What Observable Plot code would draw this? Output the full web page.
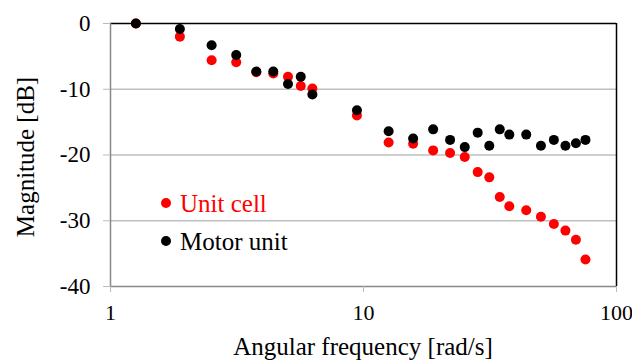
<!DOCTYPE html>
<html>
<head>
<meta charset="utf-8">
<style>
  html, body { margin: 0; padding: 0; background: #fff; font-family: 'Liberation Serif', serif; }
  #wrap { position: relative; width: 632px; height: 361px; overflow: hidden; font-family: 'Liberation Serif', serif; }
  .lbl { position: absolute; font-family: 'Liberation Serif', serif !important; font-size: 25px; white-space: nowrap; line-height: 1; }
  #wrap svg, #wrap svg text { font-family: 'Liberation Serif', serif !important; }
</style>
<script src="https://cdn.jsdelivr.net/npm/d3@7"></script>
<script src="https://cdn.jsdelivr.net/npm/@observablehq/plot@0.6"></script>
</head>
<body>
<div id="wrap">
  <div class="lbl" id="xtitle" style="left:363px; top:334px; transform:translateX(-50%)">Angular frequency [rad/s]</div>
  <div class="lbl" id="ytitle" style="left:25px; top:157px; transform:translate(-50%, -50%) rotate(-90deg)">Magnitude [dB]</div>
</div>
<script>
const freq = [1.26, 1.88, 2.51, 3.14, 3.77, 4.40, 5.03, 5.65, 6.28, 9.42, 12.57, 15.71, 18.85, 21.99, 25.13, 28.27, 31.42, 34.56, 37.70, 43.98, 50.27, 56.55, 62.83, 69.12, 75.40];
const unitCell = [0, -2.0, -5.6, -5.9, -7.4, -7.6, -8.1, -9.5, -9.9, -14.0, -18.1, -18.3, -19.3, -19.7, -20.3, -22.6, -23.4, -26.4, -27.8, -28.4, -29.4, -30.5, -31.5, -32.9, -35.9];
const motorUnit = [0, -0.85, -3.3, -4.8, -7.3, -7.3, -9.2, -8.1, -10.8, -13.2, -16.4, -17.5, -16.1, -17.7, -18.8, -16.6, -18.6, -16.1, -16.9, -16.9, -18.6, -17.7, -18.6, -18.2, -17.7];
const seriesNames = ["Unit cell", "Motor unit"];
const seriesColors = ["#ff0000", "#000000"];
const xTicks = [1, 10, 100];
const yTicks = [0, -10, -20, -30, -40];
const gridTicks = [-10, -20, -30];

const unitData = freq.map((f, i) => ({f, v: unitCell[i]}));
const motorData = freq.map((f, i) => ({f, v: motorUnit[i]}));

const plot = Plot.plot({
  width: 632,
  height: 361,
  marginLeft: 110,
  marginRight: 16,
  marginTop: 23,
  marginBottom: 75,
  style: {fontFamily: "'Liberation Serif', serif", fontSize: "23px", background: "#fff", color: "#000", overflow: "visible"},
  x: {type: "log", domain: [1, 100]},
  y: {domain: [-40, 0]},
  marks: [
    Plot.ruleY(gridTicks, {stroke: "#bfbfbf", strokeWidth: 1.5}),
    Plot.ruleY([0], {stroke: "#000", strokeWidth: 1.5}),
    Plot.ruleX([100], {stroke: "#000", strokeWidth: 1.5}),
    Plot.ruleX([1], {stroke: "#888", strokeWidth: 1.5}),
    Plot.ruleY([-40], {stroke: "#888", strokeWidth: 1.5}),
    Plot.axisX({ticks: xTicks, tickFormat: d => String(d), tickSize: 6, tickPadding: 12, stroke: "#bbb", label: null, fill: "#000", fontSize: 22}),
    Plot.axisY({ticks: yTicks, tickFormat: d => String(d), tickSize: 7, tickPadding: 13, stroke: "#bbb", label: null, fill: "#000", fontSize: 23}),
    Plot.dot(unitData, {x: "f", y: "v", r: 5, fill: seriesColors[0], stroke: null}),
    Plot.dot(motorData, {x: "f", y: "v", r: 5, fill: seriesColors[1], stroke: null})
  ]
});
const wrap = document.getElementById("wrap");
wrap.insertBefore(plot, wrap.firstChild);

// legend
const legendTop = [190.5, 228.5];
seriesNames.forEach((name, i) => {
  const row = document.createElement("div");
  row.className = "lbl";
  Object.assign(row.style, {left: "161px", top: legendTop[i] + "px", color: seriesColors[i], display: "flex", alignItems: "center"});
  const dot = document.createElement("span");
  Object.assign(dot.style, {display: "inline-block", width: "10px", height: "10px", borderRadius: "50%", background: seriesColors[i], marginRight: "9px"});
  const t = document.createElement("span");
  t.textContent = name;
  row.appendChild(dot);
  row.appendChild(t);
  wrap.appendChild(row);
});
</script>
</body>
</html>
